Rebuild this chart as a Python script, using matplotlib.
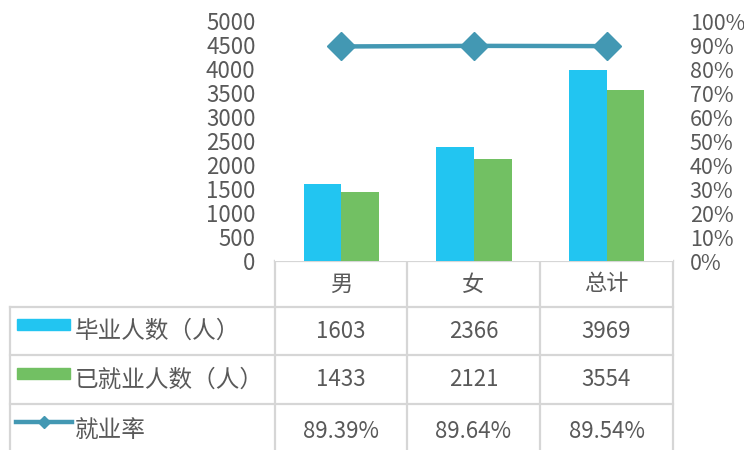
import numpy as np
import matplotlib.pyplot as plt
from matplotlib.patches import Rectangle
from matplotlib.ticker import FuncFormatter

plt.rcParams['font.family'] = ['Noto Sans CJK SC', 'DejaVu Sans']
plt.rcParams['font.weight'] = 'light'

categories = ['男', '女', '总计']
graduates = [1603, 2366, 3969]
employed = [1433, 2121, 3554]
rate = [89.39, 89.64, 89.54]
series_names = ['毕业人数（人）', '已就业人数（人）', '就业率']

blue = '#22C5F1'
green = '#72C063'
teal = '#4398B3'
grey = '#595959'
grid_c = '#D6D6D6'

W, H = 744, 450
fig = plt.figure(figsize=(W / 100, H / 100), dpi=100)


def px(x0, y0, x1, y1):
    return [x0 / W, 1 - y1 / H, (x1 - x0) / W, (y1 - y0) / H]


# bars
ax = fig.add_axes(px(275, 21, 673, 261))
x = np.arange(len(categories))
w = 0.285
ax.bar(x - w / 2, graduates, w, color=blue)
ax.bar(x + w / 2, employed, w, color=green)
ax.set_xlim(-0.5, len(categories) - 0.5)
ax.set_ylim(0, 5000)
ax.set_yticks(range(0, 5001, 500))
ax.set_xticks([])
for s in ax.spines.values():
    s.set_visible(False)
ax.tick_params(axis='y', length=0, labelsize=16, labelcolor=grey, pad=14)

# rate line
ax2 = ax.twinx()
ax2.plot(x, rate, color=teal, lw=3.2, marker='D', ms=14)
ax2.set_ylim(0, 100)
ax2.set_yticks(range(0, 101, 10))
ax2.yaxis.set_major_formatter(FuncFormatter(lambda v, p: f'{v:.0f}%'))
for s in ax2.spines.values():
    s.set_visible(False)
ax2.tick_params(axis='y', length=0, labelsize=15.5, labelcolor=grey, pad=12)

# data table
tab = fig.add_axes([0, 0, 1, 1], zorder=-1)
tab.set_xlim(0, W)
tab.set_ylim(H, 0)
tab.axis('off')

cols = [275, 407, 540, 673]
left = 10
rows = [261, 307, 355, 404, 455]

tab.plot([cols[0], cols[-1]], [rows[0], rows[0]], color=grid_c, lw=1.6)
for y in rows[1:4]:
    tab.plot([left, cols[-1]], [y, y], color=grid_c, lw=1.6)
for c in cols:
    tab.plot([c, c], [rows[0], rows[-1]], color=grid_c, lw=1.6)
tab.plot([left, left], [rows[1], rows[-1]], color=grid_c, lw=1.6)

centers = [(cols[i] + cols[i + 1]) / 2 for i in range(3)]
for cx, name in zip(centers, categories):
    tab.text(cx, 284, name, ha='center', va='center', fontsize=16, color=grey)

table_rows = [[str(v) for v in graduates],
              [str(v) for v in employed],
              [f'{v:.2f}%' for v in rate]]
row_y = [331, 380, 431]
for ry, vals, name in zip(row_y, table_rows, series_names):
    tab.text(75, ry, name, ha='left', va='center', fontsize=17, color=grey)
    for cx, v in zip(centers, vals):
        tab.text(cx, ry, v, ha='center', va='center', fontsize=16, color=grey)

# legend keys
tab.add_patch(Rectangle((17, 319), 53, 11, color=blue))
tab.add_patch(Rectangle((17, 368), 53, 11, color=green))
tab.plot([16, 72], [422, 422], color=teal, lw=3.2)
tab.plot([44], [422], marker='D', ms=6, color=teal)

fig.savefig('out.png', dpi=100)
